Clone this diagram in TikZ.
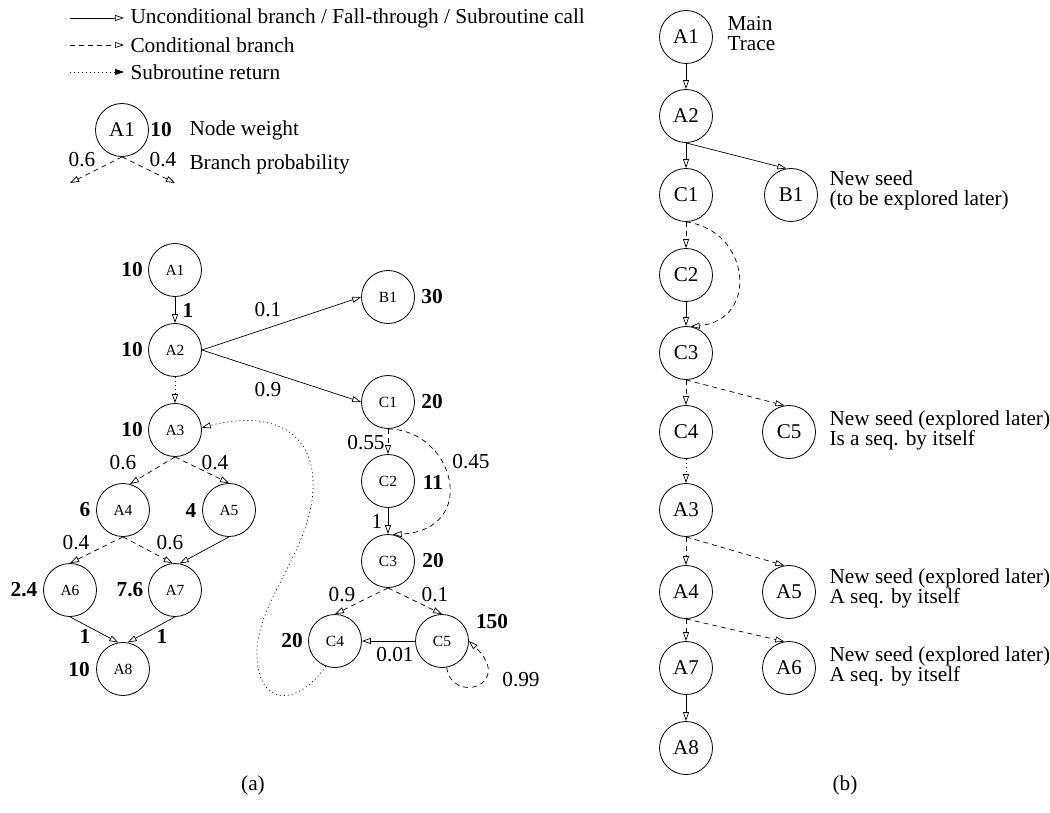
\documentclass[tikz,border=0pt]{standalone}
\usepackage{fontspec}
\setmainfont{Liberation Serif}
\usetikzlibrary{arrows.meta}
\begin{document}
\begin{tikzpicture}[x=1pt,y=1pt,
  every node/.style={font=\fontsize{21.3}{21}\selectfont},
  nd/.style={circle,draw,line width=0.8pt,minimum size=53pt,inner sep=0pt},
  nda/.style={nd,font=\fontsize{15.5}{16}\selectfont},
  ndb/.style={nd,font=\fontsize{21}{22}\selectfont},
  wt/.style={font=\bfseries\fontsize{21.3}{22}\selectfont},
  lbl/.style={font=\fontsize{21.3}{22}\selectfont},
  note/.style={anchor=west,align=left,font=\fontsize{21.3}{20}\selectfont},
  opentip/.style={-{Triangle[open,length=9pt,width=6pt]}},
  uncond/.style={draw,line width=0.7pt,opentip},
  cond/.style={uncond,dash pattern=on 5pt off 4pt},
  ret/.style={uncond,dash pattern=on 1pt off 3pt},
  ]
\fill[white] (0,0) rectangle (1050,-813);
\useasboundingbox (0,0) rectangle (1050,-813);

% ---------------- legend ----------------
\coordinate (la1) at (70,-18);  \coordinate (lb1) at (124,-18);
\coordinate (la2) at (70,-45);  \coordinate (lb2) at (124,-45);
\coordinate (la3) at (70,-72);  \coordinate (lb3) at (124,-72);
\draw[uncond] (la1) -- (lb1);
\draw[cond] (la2) -- (lb2);
\draw[line width=0.7pt,dash pattern=on 1pt off 3pt,-{Triangle[length=9pt,width=6pt]}] (la3) -- (lb3);
\node[anchor=west] (lt1) at (127,-18) {Unconditional branch / Fall-through / Subroutine call};
\node[anchor=west] (lt2) at (127,-45) {Conditional branch};
\node[anchor=west] (lt3) at (127,-72) {Subroutine return};

\node[ndb] (L) at (122,-130) {A1};
\node[wt] (Lw) at (161,-130) {10};
\node[anchor=west] (Lwt) at (186,-130) {Node weight};
\node[lbl] (Lp6) at (82,-160) {0.6};
\node[lbl] (Lp4) at (163,-160) {0.4};
\node[anchor=west] (Lbp) at (186,-164) {Branch probability};
\coordinate (Lx) at (70,-183); \coordinate (Ly) at (175,-183);
\draw[cond] (L.south) -- (Lx);
\draw[cond] (L.south) -- (Ly);

% ---------------- (a) weighted control-flow graph ----------------
\node[nda] (A1) at (175,-270) {A1};
\node[nda] (A2) at (175,-350) {A2};
\node[nda] (A3) at (175,-430) {A3};
\node[nda] (A4) at (123,-510) {A4};
\node[nda] (A5) at (229,-510) {A5};
\node[nda] (A6) at (70,-590) {A6};
\node[nda] (A7) at (175,-590) {A7};
\node[nda] (A8) at (123,-669) {A8};
\node[nda] (B1) at (388,-297) {B1};
\node[nda] (C1) at (388,-402) {C1};
\node[nda] (C2) at (388,-481) {C2};
\node[nda] (C3) at (388,-561) {C3};
\node[nda] (C4) at (335,-641) {C4};
\node[nda] (C5) at (442,-641) {C5};

% node weights
\node[wt] (wA1) at (132,-270) {10};
\node[wt] (wA2) at (132,-350) {10};
\node[wt] (wA3) at (132,-430) {10};
\node[wt] (wA4) at (85,-510) {6};
\node[wt] (wA5) at (191,-510) {4};
\node[wt] (wA6) at (24,-590) {2.4};
\node[wt] (wA7) at (130,-590) {7.6};
\node[wt] (wA8) at (79,-670) {10};
\node[wt] (wB1) at (432,-297) {30};
\node[wt] (wC1) at (432,-402) {20};
\node[wt] (wC2) at (433,-482) {11};
\node[wt] (wC3) at (433,-561) {20};
\node[wt] (wC4) at (292,-641) {20};
\node[wt] (wC5) at (492,-622) {150};

% edges
\draw[uncond] (A1) -- (A2);
\draw[ret] (A2) -- (A3);
\draw[uncond] (A2.east) -- (B1.west);
\draw[uncond] (A2.east) -- (C1.west);
\draw[cond] (A3.south) -- (A4.75);
\draw[cond] (A3.south) -- (A5.north);
\draw[cond] (A4.south) -- (A6.north);
\draw[cond] (A4.south) -- (A7.95);
\draw[uncond] (A5.south) -- (A7.80);
\draw[uncond] (A6.south) -- (A8.100);
\draw[uncond] (A7.south) -- (A8.80);
\draw[cond] (C1) -- (C2);
\draw[cond] (C1.south) .. controls (455,-430) and (480,-530) .. (C3.80);
\draw[uncond] (C2) -- (C3);
\draw[cond] (C3.south) -- (C4.north);
\draw[cond] (C3.south) -- (C5.north);
\draw[uncond] (C5.west) -- (C4.east);
\draw[cond] (C5.280) .. controls (452,-705) and (515,-685) .. (C5.east);
\draw[ret] (C4.250) .. controls (295,-710) and (255,-705) .. (257,-650)
  .. controls (259,-600) and (310,-550) .. (313,-490)
  .. controls (316,-430) and (270,-410) .. (A3.5);

% branch labels
\node[wt] (eA12) at (188,-310) {1};
\node[lbl] (eA2B) at (268,-310) {0.1};
\node[lbl] (eA2C) at (268,-390) {0.9};
\node[lbl] (eA34) at (123,-463) {0.6};
\node[lbl] (eA35) at (215,-463) {0.4};
\node[lbl] (eA46) at (76,-543) {0.4};
\node[lbl] (eA47) at (170,-543) {0.6};
\node[wt] (eA68) at (85,-636) {1};
\node[wt] (eA78) at (162,-636) {1};
\node[lbl] (eC12) at (366,-443) {0.55};
\node[lbl] (eC13) at (471,-462) {0.45};
\node[lbl] (eC23) at (377,-521) {1};
\node[lbl] (eC34) at (342,-595) {0.9};
\node[lbl] (eC35) at (435,-595) {0.1};
\node[lbl] (eC54) at (395,-655) {0.01};
\node[lbl] (eC55) at (521,-680) {0.99};

\node[lbl] (capa) at (253,-785) {(a)};

% ---------------- (b) trace selection ----------------
\node[ndb] (bA1) at (686,-37) {A1};
\node[ndb] (bA2) at (686,-116) {A2};
\node[ndb] (bC1) at (686,-195) {C1};
\node[ndb] (bB1) at (791,-195) {B1};
\node[ndb] (bC2) at (686,-275) {C2};
\node[ndb] (bC3) at (686,-353) {C3};
\node[ndb] (bC4) at (686,-432) {C4};
\node[ndb] (bC5) at (789,-432) {C5};
\node[ndb] (bA3) at (686,-510) {A3};
\node[ndb] (bA4) at (686,-592) {A4};
\node[ndb] (bA5) at (789,-592) {A5};
\node[ndb] (bA7) at (686,-668) {A7};
\node[ndb] (bA6) at (789,-668) {A6};
\node[ndb] (bA8) at (686,-748) {A8};

\draw[uncond] (bA1) -- (bA2);
\draw[uncond] (bA2) -- (bC1);
\draw[uncond] (bA2.south) -- (bB1.100);
\draw[cond] (bC1) -- (bC2);
\draw[cond] (bC1.south) .. controls (750,-230) and (760,-320) .. (bC3.80);
\draw[uncond] (bC2) -- (bC3);
\draw[cond] (bC3) -- (bC4);
\draw[cond] (bC3.south) -- (bC5.100);
\draw[ret] (bC4) -- (bA3);
\draw[cond] (bA3) -- (bA4);
\draw[cond] (bA3.south) -- (bA5.100);
\draw[cond] (bA4) -- (bA7);
\draw[cond] (bA4.south) -- (bA6.100);
\draw[uncond] (bA7) -- (bA8);

\node[note] (nA1) at (724,-34) {Main\\Trace};
\node[note] (nB1) at (826,-190) {New seed\\(to be explored later)};
\node[note] (nC5) at (826,-430) {New seed (explored later)\\Is a seq. by itself};
\node[note] (nA5) at (826,-588) {New seed (explored later)\\A seq. by itself};
\node[note] (nA6) at (826,-666) {New seed (explored later)\\A seq. by itself};

\node[lbl] (capb) at (845,-785) {(b)};
\end{tikzpicture}
\end{document}
